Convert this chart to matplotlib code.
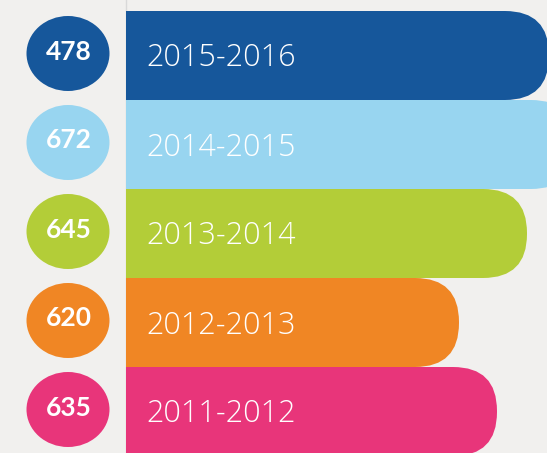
import matplotlib.pyplot as plt
from matplotlib.patches import Rectangle, FancyBboxPatch, Ellipse

# data (top to bottom)
seasons = ["2015-2016", "2014-2015", "2013-2014", "2012-2013", "2011-2012"]
counts = [478, 672, 645, 620, 635]
# bar lengths as drawn (pixel units from the bar start)
bar_lengths = [423, 449, 401, 333, 371]
colors = ["#16579b", "#98d5f0", "#b3cd38", "#f08624", "#e8357a"]

W, H = 547, 453
x0 = 126
bar_h = 89
top = 11
radius = 44

fig = plt.figure(figsize=(W / 100, H / 100), dpi=100)
fig.patch.set_facecolor("#f1f0ee")
ax = fig.add_axes([0, 0, 1, 1])
ax.set_xlim(0, W)
ax.set_ylim(H, 0)
ax.set_aspect("equal")
ax.axis("off")

for i, (season, n, length, c) in enumerate(zip(seasons, counts, bar_lengths, colors)):
    y = top + i * bar_h
    yc = y + bar_h / 2
    # rounded right end, square left end
    ax.add_patch(FancyBboxPatch((x0, y), length, bar_h,
                                boxstyle="round,pad=0,rounding_size=%d" % radius,
                                fc=c, ec="none", zorder=2))
    ax.add_patch(Rectangle((x0, y), length - radius, bar_h, fc=c, ec="none", zorder=3))
    ax.text(x0 + 20, yc + 3, season, color="white", fontsize=22, family="Open Sans",
            fontweight="light", va="center", ha="left", zorder=4)
    # number blob
    ax.add_patch(Ellipse((68, yc - 2), 83, 75, fc=c, ec="none", zorder=2))
    ax.text(69, yc - 4, str(n), color="white", fontsize=19, family="Lato",
            fontweight="bold", va="center", ha="center", zorder=4)

ax.plot([x0, x0], [0, H], color="#d9d9d9", lw=1, zorder=1)

fig.savefig("out.png", dpi=100, facecolor=fig.get_facecolor())
